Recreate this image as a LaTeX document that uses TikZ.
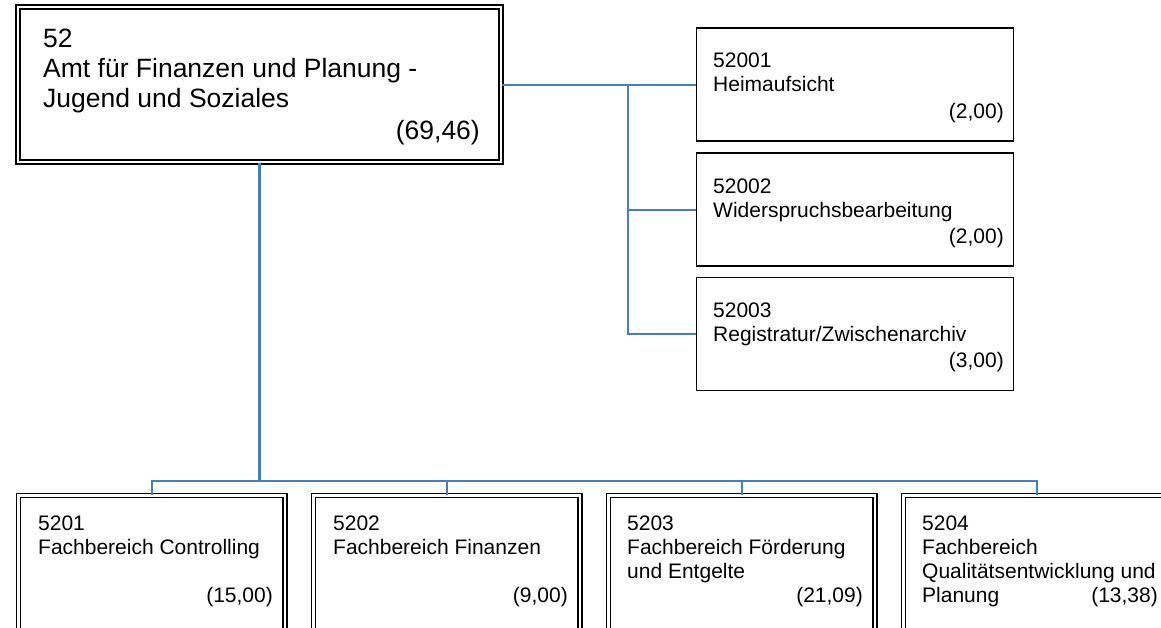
\documentclass[tikz,border=0pt]{standalone}
\usepackage{fontspec}
\setmainfont{Liberation Sans}
\definecolor{lineblue}{RGB}{74,126,187}
\begin{document}
\begin{tikzpicture}[x=1pt,y=-1pt,
  dbl/.style={draw=black, line width=1.4pt, double=white, double distance=2.6pt, inner sep=0pt, rectangle},
  sbox/.style={draw=black, line width=1.5pt, rectangle, inner sep=0pt, minimum width=317pt, minimum height=113pt},
  cbox/.style={dbl, minimum width=266.5pt, minimum height=184.5pt},
  conn/.style={draw=lineblue, line width=2pt},
  busline/.style={draw=lineblue, line width=1.5pt},
  big/.style={font=\fontsize{26.5}{30}\selectfont, inner sep=0pt},
  sm/.style={font=\fontsize{21}{24}\selectfont, inner sep=0pt},
]
\useasboundingbox (0,0) rectangle (1161,627);
\clip (0,0) rectangle (1161,627);
\fill[white] (0,0) rectangle (1161,627);

% boxes
\node[dbl, minimum width=483pt, minimum height=155pt] (b52) at (259.5,84.5) {};
\node[sbox] (r1) at (855,84.5) {};
\node[sbox] (r2) at (855,209.5) {};
\node[sbox] (r3) at (855,334) {};
\node[cbox] (c1) at (151.75,587.75) {};
\node[cbox] (c2) at (446.75,587.75) {};
\node[cbox] (c3) at (741.75,587.75) {};
\node[cbox] (c4) at (1036.75,587.75) {};

% connectors
\coordinate (sp) at (628,84.5);
\coordinate (bus) at (259.5,481);
\draw[conn] (b52.east) -- (r1.west);
\draw[conn] (sp) |- (r2.west);
\draw[conn] (sp) |- (r3.west);
\draw[conn, line width=2.2pt] (b52.south) -- (bus);
\draw[busline] (bus) -| (c1.north);
\draw[busline] (bus) -| (c2.north);
\draw[busline] (bus) -| (c3.north);
\draw[busline] (bus) -| (c4.north);

% main box text
\node[big, anchor=base west] (t52a) at (43,47) {52};
\node[big, anchor=base west] (t52b) at (43,77) {Amt für Finanzen und Planung -};
\node[big, anchor=base west] (t52c) at (43,107) {Jugend und Soziales};
\node[big, anchor=base east] (t52d) at (480,139) {(69,46)};

% right boxes text
\node[sm, anchor=base west] (t1a) at (713,67) {52001};
\node[sm, anchor=base west] (t1b) at (713,91) {Heimaufsicht};
\node[sm, anchor=base east] (t1c) at (1004,118) {(2,00)};

\node[sm, anchor=base west] (t2a) at (713,193) {52002};
\node[sm, anchor=base west] (t2b) at (713,217) {Widerspruchsbearbeitung};
\node[sm, anchor=base east] (t2c) at (1004,243) {(2,00)};

\node[sm, anchor=base west] (t3a) at (713,317) {52003};
\node[sm, anchor=base west] (t3b) at (713,341) {Registratur/Zwischenarchiv};
\node[sm, anchor=base east] (t3c) at (1004,367) {(3,00)};

% bottom boxes text
\node[sm, anchor=base west] (u1a) at (38,530) {5201};
\node[sm, anchor=base west] (u1b) at (38,554) {Fachbereich Controlling};
\node[sm, anchor=base east] (u1c) at (273,602) {(15,00)};

\node[sm, anchor=base west] (u2a) at (333,530) {5202};
\node[sm, anchor=base west] (u2b) at (333,554) {Fachbereich Finanzen};
\node[sm, anchor=base east] (u2c) at (568,602) {(9,00)};

\node[sm, anchor=base west] (u3a) at (627,530) {5203};
\node[sm, anchor=base west] (u3b) at (627,554) {Fachbereich Förderung};
\node[sm, anchor=base west] (u3c) at (627,578) {und Entgelte};
\node[sm, anchor=base east] (u3d) at (863,602) {(21,09)};

\node[sm, anchor=base west] (u4a) at (922,530) {5204};
\node[sm, anchor=base west] (u4b) at (922,554) {Fachbereich};
\node[sm, anchor=base west] (u4c) at (922,578) {Qualitätsentwicklung und};
\node[sm, anchor=base west] (u4d) at (922,602) {Planung};
\node[sm, anchor=base east] (u4e) at (1158,602) {(13,38)};
\end{tikzpicture}
\end{document}
